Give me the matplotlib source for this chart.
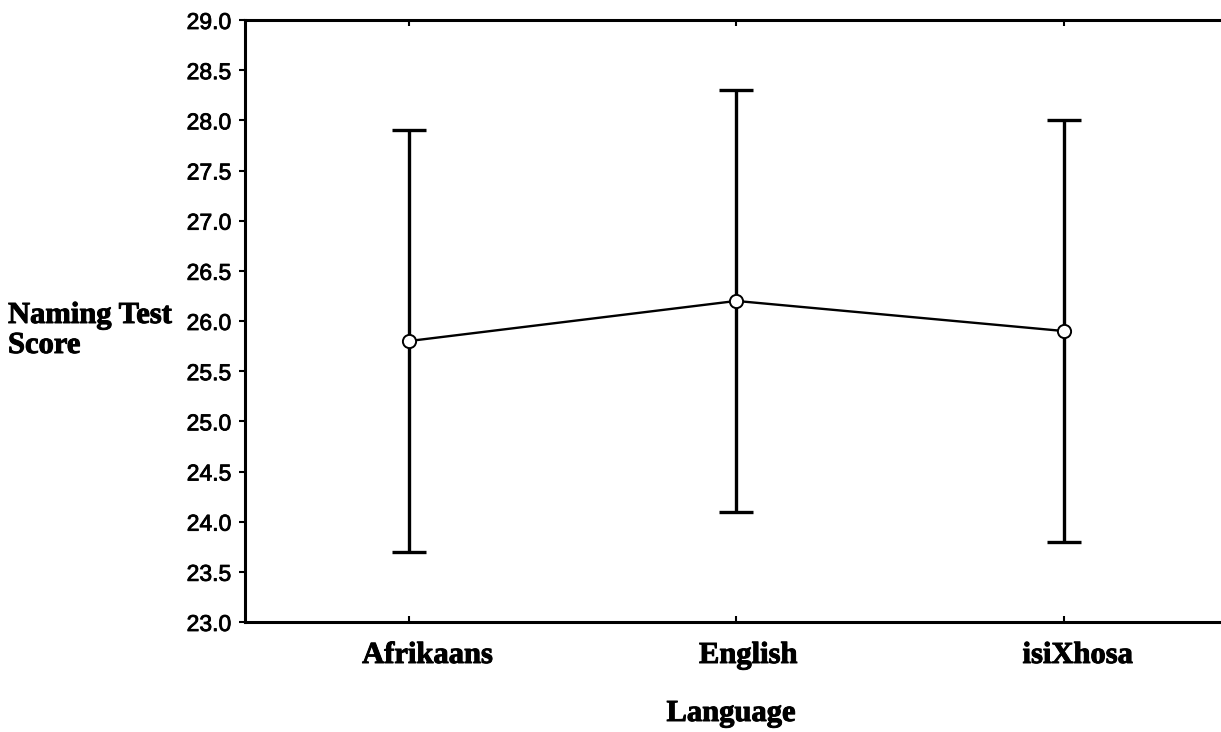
import matplotlib
matplotlib.use("Agg")
import matplotlib.pyplot as plt
import matplotlib.transforms as mtransforms
import matplotlib.patheffects as pe

categories = ["Afrikaans", "English", "isiXhosa"]
means = [25.8, 26.2, 25.9]
lower = [23.7, 24.1, 23.8]
upper = [27.9, 28.3, 28.0]
yticks = [23.0, 23.5, 24.0, 24.5, 25.0, 25.5, 26.0, 26.5, 27.0, 27.5, 28.0, 28.5, 29.0]

W, H = 1221, 732
fig = plt.figure(figsize=(W/100, H/100), dpi=100)
ax = fig.add_axes([245/W, 1-622/H, 1-245/W, (622-20)/H])

serif = dict(fontfamily='Liberation Serif', fontweight='bold', fontsize=22,
             path_effects=[pe.withStroke(linewidth=0.7, foreground='black')])

x = list(range(len(categories)))
yerr = [[m - l for m, l in zip(means, lower)], [u - m for u, m in zip(upper, means)]]
ax.errorbar(x, means, yerr=yerr, fmt='-', color='black', lw=1.7, elinewidth=2.4,
            capsize=12.5, capthick=2.4, zorder=2)
ax.plot(x, means, 'o', ms=9.5, mfc='white', mec='black', mew=1.4, zorder=3)

ax.set_xlim(-0.5, 2.48)
ax.set_ylim(23.0, 29.0)
ax.set_yticks(yticks)
ax.set_yticklabels([f"{v:.1f}" for v in yticks], fontfamily='Liberation Sans', fontsize=16.5,
                   path_effects=[pe.withStroke(linewidth=0.6, foreground='black')])
ax.set_xticks(x)
ax.set_xticklabels([])

# category labels, slightly right of their ticks as in the reference
base = ax.get_xaxis_transform()
offsets_px = [19, 12, 14]
for xi, cat, dx in zip(x, categories, offsets_px):
    tr = base + mtransforms.ScaledTranslation(dx/100, -41/100, fig.dpi_scale_trans)
    ax.text(xi, 0, cat, transform=tr, ha='center', va='baseline', clip_on=False, **serif)

ax.spines['right'].set_visible(False)
for s in ['left', 'top', 'bottom']:
    ax.spines[s].set_linewidth(2.2)

ax.tick_params(axis='y', direction='out', length=4, width=1.5, pad=6)
ax.tick_params(axis='x', direction='in', length=4, width=1.5, top=True)

fig.text(8/W, 1-323/H, "Naming Test", ha='left', va='baseline', **serif)
fig.text(8/W, 1-353/H, "Score", ha='left', va='baseline', **serif)
fig.text(731/W, 1-721/H, "Language", ha='center', va='baseline', **serif)

fig.savefig("out.png", dpi=100)
